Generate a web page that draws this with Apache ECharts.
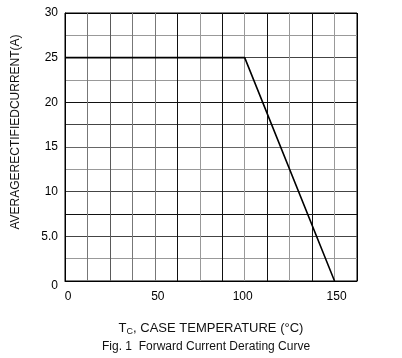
<!DOCTYPE html>
<html>
<head>
<meta charset="utf-8">
<script src="https://cdn.jsdelivr.net/npm/echarts@6/dist/echarts.min.js"></script>
<style>html,body{margin:0;padding:0;background:#fff}#c{width:402px;height:358px}</style>
</head>
<body>
<div id="c"></div>
<script>
// Data
var curveTemp = [0, 100, 150];
var curveCurrent = [25, 25, 0];
var xTickLabels = [0, 50, 100, 150];
var yTickLabels = ['0', '5.0', '10', '15', '20', '25', '30'];
var xTitle = 'CASE TEMPERATURE (°C)';
var yTitle = 'AVERAGERECTIFIEDCURRENT(A)';
var caption = 'Fig. 1  Forward Current Derating Curve';

var FONT = '"Liberation Sans", Arial, sans-serif';
var chart = echarts.init(document.getElementById('c'), null, {renderer: 'canvas'});
var vColors = ['#000', '#777', '#5a5a5a', '#777', '#777', '#111', '#999', '#111', '#999', '#111', '#999', '#111', '#999', '#000'];
var hColors = ['#000', '#999', '#444', '#111', '#444', '#999', '#666', '#444', '#111', '#999', '#444', '#999', '#000'];

chart.setOption({
  animation: false,
  backgroundColor: '#fff',
  title: {
    text: caption,
    left: 97, top: 336,
    textStyle: {fontFamily: FONT, fontSize: 12, fontWeight: 'normal', color: '#111'}
  },
  grid: {left: 65, top: 13, right: 45, bottom: 77, show: true, borderColor: '#000', borderWidth: 1},
  xAxis: {
    type: 'value', min: 0, max: 162.5, interval: 12.5,
    name: '{a|T}{b|C}{a|, ' + xTitle + '}',
    nameLocation: 'middle', nameGap: 39,
    nameTextStyle: {
      rich: {
        a: {fontFamily: FONT, fontSize: 13, color: '#111'},
        b: {fontFamily: FONT, fontSize: 9, color: '#111', padding: [7, 0, 0, 0]}
      }
    },
    axisLine: {show: true, lineStyle: {color: '#000', width: 1}},
    axisTick: {show: false},
    splitLine: {show: true, lineStyle: {color: vColors, width: 1}},
    axisLabel: {
      margin: 10, fontFamily: FONT, fontSize: 12, color: '#000',
      formatter: function (v) {
        if (xTickLabels.indexOf(v) < 0) return '';
        var s = String(v);
        if (v === 0) return '{r|' + s + '}';
        if (v === 50) return '{r|' + s + '}';
        if (v === 100) return '{l|' + s + '}';
        return '{s|' + s + '}';
      },
      rich: {
        r: {fontFamily: FONT, fontSize: 12, color: '#000', padding: [0, 0, 0, 6]},
        l: {fontFamily: FONT, fontSize: 12, color: '#000', padding: [0, 4, 0, 0]},
        s: {fontFamily: FONT, fontSize: 12, color: '#000', padding: [0, 0, 0, 4]}
      }
    }
  },
  yAxis: {
    type: 'value', min: 0, max: 30, interval: 2.5,
    name: yTitle, nameLocation: 'middle', nameGap: 43,
    nameTextStyle: {fontFamily: FONT, fontSize: 12, color: '#111', padding: [0, 0, 0, 30]},
    axisLine: {show: true, lineStyle: {color: '#000', width: 1}},
    axisTick: {show: false},
    splitLine: {show: true, lineStyle: {color: hColors, width: 1}},
    axisLabel: {
      margin: 7, fontFamily: FONT, fontSize: 12, color: '#000',
      formatter: function (v) {
        if (v % 5 !== 0) return '';
        var s = yTickLabels[v / 5];
        if (v === 0) return '{z|' + s + '}';
        return s;
      },
      rich: {z: {fontFamily: FONT, fontSize: 12, color: '#000', padding: [10, 0, 0, 0]}}
    }
  },
  series: [{
    type: 'line',
    data: curveTemp.map(function (t, i) { return [t, curveCurrent[i]]; }),
    showSymbol: false, symbol: 'none',
    lineStyle: {color: '#000', width: 1.6},
    z: 5
  }]
});
</script>
</body>
</html>
